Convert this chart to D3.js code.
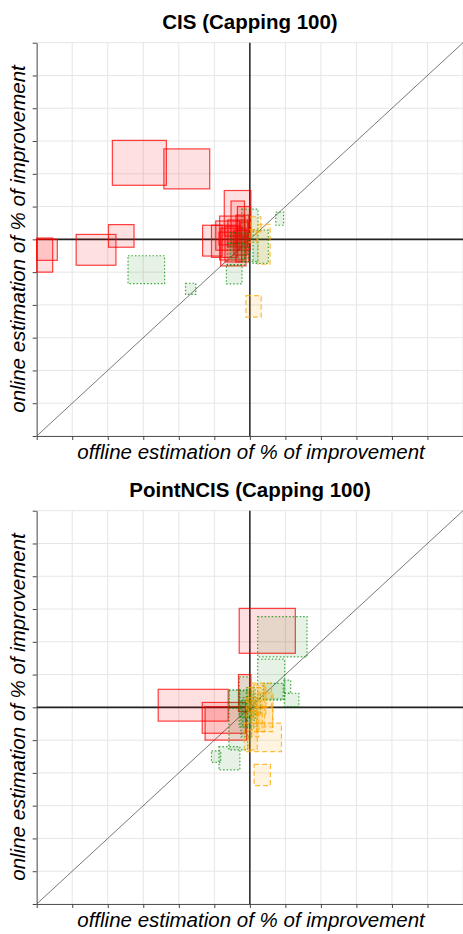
<!DOCTYPE html>
<html>
<head>
<meta charset="utf-8">
<script src="https://cdn.jsdelivr.net/npm/d3@7"></script>
<style>
  body { margin: 0; background: #fff; }
  svg { display: block; font-family: "Liberation Sans", Arial, sans-serif; }
</style>
</head>
<body>
<svg id="chart" width="463" height="934"></svg>
<script>
// tick positions (axis units, no labels shown on the original)
const ticks = d3.range(-6, 7);

// boxes: [offline lo, offline hi, online lo, online hi]
const cisRed = [
  [-3.87, -2.35, 1.65, 3.02],
  [-2.42, -1.13, 1.54, 2.76],
  [-3.98, -3.26, -0.24, 0.45],
  [-4.89, -3.77, -0.79, 0.15],
  [-6.0, -5.55, -1.0, 0.04],
  [-6.0, -5.42, -0.64, 0.0],
  [-0.72, 0.03, 0.10, 1.49],
  [-0.53, -0.15, -0.11, 1.17],
  [-0.35, 0.01, -0.33, 1.0],
  [-1.33, -0.78, -0.51, 0.43],
  [-1.08, -0.34, -0.55, 0.43],
  [-0.96, -0.28, -0.33, 0.56],
  [-0.85, -0.14, -0.63, 0.71],
  [-0.82, -0.11, -0.81, 0.34],
  [-0.70, -0.23, -0.69, 0.40],
  [-0.62, -0.06, -0.23, 0.59],
  [-0.45, -0.08, -0.48, 0.28],
  [-0.39, -0.03, -0.69, 0.74],
  [-0.28, -0.03, 0.04, 0.53],
  [-0.87, -0.39, -0.17, 0.22]
];
const cisGreen = [
  [-3.43, -2.40, -1.35, -0.50],
  [-1.81, -1.52, -1.68, -1.34],
  [0.73, 0.95, 0.43, 0.83],
  [-0.23, 0.23, -0.68, 0.92],
  [-0.63, -0.14, -0.78, -0.12],
  [-0.66, -0.22, -1.36, -0.78],
  [0.09, 0.52, -0.73, 0.28],
  [-0.55, -0.05, -0.60, 0.20]
];
const cisOrange = [
  [-0.11, 0.32, -2.37, -1.72],
  [0.03, 0.31, 0.23, 0.69],
  [0.22, 0.57, -0.76, 0.46],
  [0.0, 0.20, -0.10, 0.30]
];

const pncisRed = [
  [-0.30, 1.28, 1.65, 3.02],
  [-0.32, 0.03, -0.13, 1.0],
  [-2.58, -0.61, -0.42, 0.55],
  [-1.34, -0.12, -0.79, 0.15],
  [-1.26, -0.09, -1.0, 0.02]
];
const pncisGreen = [
  [0.22, 1.61, 1.54, 2.77],
  [0.22, 0.98, 0.25, 1.47],
  [0.97, 1.38, 0.02, 0.43],
  [0.38, 0.94, 0.22, 0.73],
  [0.96, 1.15, 0.43, 0.83],
  [-0.87, -0.28, -1.91, -1.20],
  [-1.08, -0.82, -1.68, -1.33],
  [-0.59, -0.06, -1.30, 0.53],
  [-0.58, -0.28, -0.03, 0.53],
  [-0.30, 0.0, -0.60, 0.93],
  [-0.30, 0.10, -0.30, 0.50],
  [-0.20, 0.20, -0.60, 0.30],
  [-0.10, 0.15, -0.40, 0.60],
  [-0.25, 0.05, -0.90, 0.20],
  [0.0, 0.30, -0.20, 0.40]
];
const pncisOrange = [
  [0.12, 0.58, -2.39, -1.74],
  [-0.16, 0.89, -1.35, -0.48],
  [-0.05, 0.21, -1.30, -0.69],
  [0.19, 0.64, -0.74, 0.02],
  [0.05, 0.61, 0.0, 0.74],
  [0.10, 0.42, -0.74, 0.68],
  [0.22, 0.65, -0.60, 0.44],
  [-0.10, 0.20, -0.30, 0.30],
  [0.0, 0.35, -0.50, 0.20],
  [0.05, 0.25, -0.90, -0.10],
  [-0.05, 0.45, -0.20, 0.60]
];

const panels = [
  { title: "CIS (Capping 100)", top: 0, red: cisRed, green: cisGreen, orange: cisOrange },
  { title: "PointNCIS (Capping 100)", top: 468, red: pncisRed, green: pncisGreen, orange: pncisOrange }
];

const styles = {
  red: { stroke: "rgba(255,0,0,0.75)", fill: "rgba(255,0,0,0.12)", dash: null },
  green: { stroke: "rgba(0,140,0,0.75)", fill: "rgba(0,128,0,0.10)", dash: "1.5,2" },
  orange: { stroke: "rgba(255,165,0,0.75)", fill: "rgba(255,165,0,0.12)", dash: "5,3" }
};

const svg = d3.select("#chart");
const x = d3.scaleLinear().domain([-6, 6]).range([36.7, 463]);
const y = d3.scaleLinear().domain([-6, 6]).range([436, 42.7]);

panels.forEach(p => {
  const g = svg.append("g").attr("transform", `translate(0,${p.top})`);

  g.append("text")
    .attr("x", 250).attr("y", 29)
    .attr("text-anchor", "middle")
    .style("font-size", "20.5px").style("font-weight", "bold")
    .text(p.title);

  // grid
  g.selectAll(".gx").data(ticks).enter().append("line")
    .attr("x1", d => x(d)).attr("x2", d => x(d))
    .attr("y1", y(6)).attr("y2", y(-6))
    .attr("stroke", "#e6e6e6").attr("stroke-width", 1);
  g.selectAll(".gy").data(ticks).enter().append("line")
    .attr("x1", x(-6)).attr("x2", x(6))
    .attr("y1", d => y(d)).attr("y2", d => y(d))
    .attr("stroke", "#e6e6e6").attr("stroke-width", 1);

  // axes
  const ax = g.append("g").attr("transform", `translate(0,${y(-6)})`)
    .call(d3.axisBottom(x).tickValues(ticks).tickSize(4).tickSizeOuter(0).tickFormat(""));
  const ay = g.append("g").attr("transform", `translate(${x(-6)},0)`)
    .call(d3.axisLeft(y).tickValues(ticks).tickSize(4).tickSizeOuter(0).tickFormat(""));
  [ax, ay].forEach(a => {
    a.select(".domain").attr("stroke", "#555");
    a.selectAll(".tick line").attr("stroke", "#444");
  });

  // zero lines and diagonal
  g.append("line").attr("x1", x(0)).attr("x2", x(0)).attr("y1", y(6)).attr("y2", y(-6))
    .attr("stroke", "#222").attr("stroke-width", 1.5);
  g.append("line").attr("x1", x(-6)).attr("x2", x(6)).attr("y1", y(0)).attr("y2", y(0))
    .attr("stroke", "#222").attr("stroke-width", 1.6);
  g.append("line").attr("x1", x(-6)).attr("x2", x(6)).attr("y1", y(-6)).attr("y2", y(6))
    .attr("stroke", "#555").attr("stroke-width", 0.8);

  ["red", "green", "orange"].forEach(k => {
    const s = styles[k];
    g.selectAll(".box-" + k).data(p[k]).enter().append("rect")
      .attr("class", "box-" + k)
      .attr("x", d => x(d[0]))
      .attr("width", d => x(d[1]) - x(d[0]))
      .attr("y", d => y(d[3]))
      .attr("height", d => y(d[2]) - y(d[3]))
      .attr("fill", s.fill)
      .attr("stroke", s.stroke)
      .attr("stroke-width", 1.2)
      .attr("stroke-dasharray", s.dash);
  });

  g.append("text")
    .attr("x", 251).attr("y", 459)
    .attr("text-anchor", "middle")
    .style("font-size", "20.5px").style("font-style", "italic")
    .text("offline estimation of % of improvement");

  g.append("text")
    .attr("transform", `translate(25,239) rotate(-90)`)
    .attr("text-anchor", "middle")
    .style("font-size", "20.5px").style("font-style", "italic")
    .text("online estimation of % of improvement");
});
</script>
</body>
</html>
